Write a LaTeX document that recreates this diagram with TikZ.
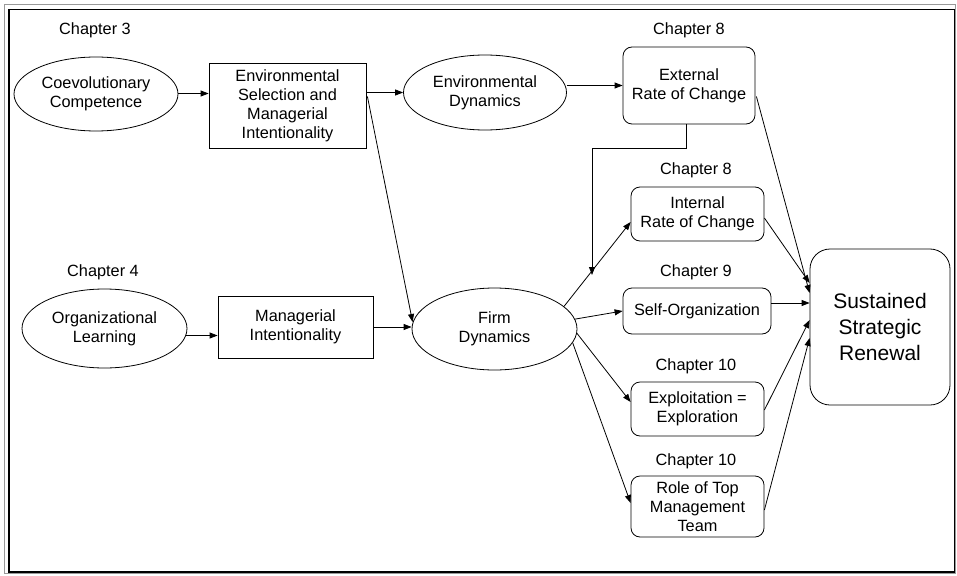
\documentclass[tikz,border=0pt]{standalone}
\usepackage{fontspec}
\setmainfont{Liberation Sans}
\usetikzlibrary{shapes.geometric,arrows.meta,calc}
\begin{document}
\begin{tikzpicture}[x=1pt,y=-1pt,
  every node/.style={font=\fontsize{16.3}{19}\selectfont, align=center, inner sep=0pt},
  oval/.style={draw, ellipse, line width=0.8pt},
  sqbox/.style={draw, rectangle, line width=0.8pt},
  rbox/.style={draw, rectangle, rounded corners=9pt, line width=0.8pt},
  chap/.style={},
  arr/.style={-{Triangle[length=8pt,width=6pt]}, line width=0.8pt},
  ln/.style={line width=0.8pt}]
\useasboundingbox (0,0) rectangle (957,575);
\draw[gray!80, line width=1pt] (4.5,4.5) rectangle (955.5,573.5);
\draw[line width=1.1pt] (9,9.5) rectangle (954.5,572);

% chapter labels
\node[chap] (c3) at (95,30.5) {Chapter 3};
\node[chap] (c4) at (103,272.5) {Chapter 4};
\node[chap] (c8a) at (689,30.5) {Chapter 8};
\node[chap] (c8b) at (696,170.5) {Chapter 8};
\node[chap] (c9) at (696,272.5) {Chapter 9};
\node[chap] (c10a) at (696,366.5) {Chapter 10};
\node[chap] (c10b) at (696,461.5) {Chapter 10};

% nodes
\node[oval, minimum width=164pt, minimum height=74pt] (coev) at (96,94) {Coevolutionary\\Competence};
\node[sqbox, minimum width=157pt, minimum height=85pt] (envsel) at (287.5,105.5) {Environmental\\Selection and\\Managerial\\Intentionality};
\node[oval, minimum width=163pt, minimum height=75pt] (envdyn) at (485,92.5) {Environmental\\Dynamics};
\node[rbox, minimum width=132pt, minimum height=77pt] (external) at (689,85.5) {External\\Rate of Change};
\node[rbox, minimum width=133pt, minimum height=54pt] (internal) at (697.5,214) {Internal\\Rate of Change};
\node[rbox, minimum width=148pt, minimum height=46pt] (selforg) at (697,311) {Self-Organization};
\node[rbox, minimum width=133pt, minimum height=54pt] (exploit) at (697.5,409) {Exploitation =\\Exploration};
\node[rbox, minimum width=133pt, minimum height=61pt] (role) at (697.5,506.5) {Role of Top\\Management\\Team};
\node[rbox, rounded corners=20pt, minimum width=140pt, minimum height=156pt,
      font=\fontsize{21}{26}\selectfont] (ssr) at (880,327) {Sustained\\Strategic\\Renewal};
\node[oval, minimum width=165pt, minimum height=79pt] (org) at (104.5,328.5) {Organizational\\Learning};
\node[sqbox, minimum width=155pt, minimum height=62pt] (mgr) at (295.5,327) {Managerial\\Intentionality};
\node[oval, minimum width=165pt, minimum height=82pt] (firm) at (494.5,329) {Firm\\Dynamics};

% connectors
\draw[arr] (coev.east |- 0,93.5) -- (envsel.west |- 0,93.5);
\draw[arr] (envsel.east |- envdyn.west) -- (envdyn.west);
\draw[arr] ($(envsel.east)+(1,-9)$) -- ($(firm.west)+(1,-7)$);
\draw[arr] (envdyn.east |- external.west) -- (external.west);
\draw[arr] ($(org.east)+(-1,7)$) -- ($(mgr.west)+(0,8.5)$);
\draw[arr] (mgr.east) -- (mgr.east -| firm.west);

\coordinate (bend) at (592,148);
\coordinate (jn) at (592,275);
\draw[arr] ($(external.south)+(-3,0)$) |- (bend) -- (jn);

\draw[arr] (firm.18) -- ($(internal.west)+(0,8)$);
\draw[arr] (firm.7) -- (selforg.west);
\draw[arr] (firm.-3) -- ($(exploit.west)+(0,-7)$);
\draw[arr] (firm.-10) -- ($(role.west)+(0,-3.5)$);

\draw[arr] ($(external.east)+(1,11)$) -- ($(ssr.west)+(0,-34)$);
\draw[arr] ($(internal.east)+(0,4)$) -- ($(ssr.west)+(0,-44)$);
\draw[arr] ($(selforg.east)+(0,-8)$) -- ($(ssr.west)+(0,-24)$);
\draw[arr] ($(exploit.east)+(0,1)$) -- ($(ssr.west)+(0,-7)$);
\draw[arr] ($(role.east)+(0,3.5)$) -- ($(ssr.west)+(0,11)$);
\end{tikzpicture}
\end{document}
